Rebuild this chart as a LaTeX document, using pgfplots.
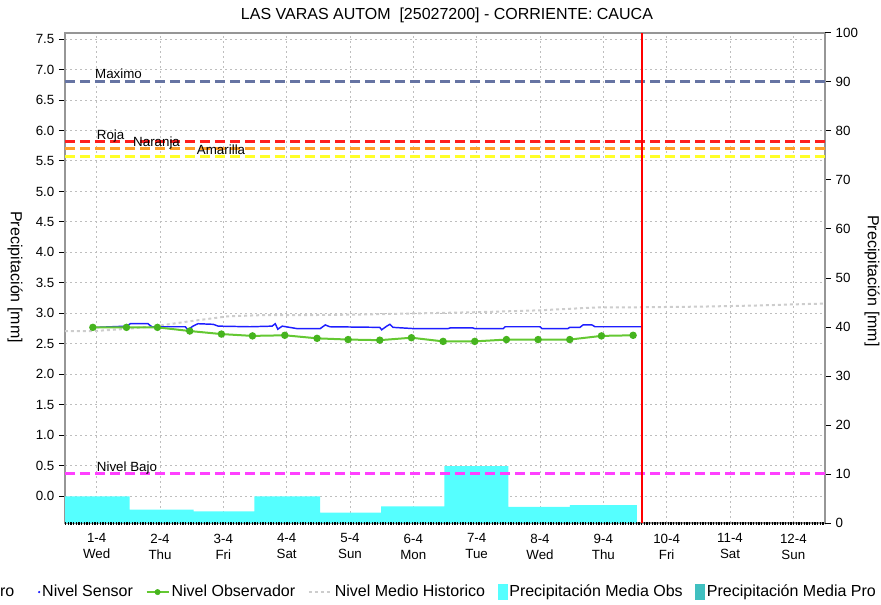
\documentclass[border=0pt]{standalone}
\usepackage{fontspec}
\setmainfont{Liberation Sans}
\usepackage{pgfplots}
\pgfplotsset{compat=1.18}
\definecolor{maxblue}{RGB}{102,116,163}
\definecolor{roja}{RGB}{255,30,30}
\definecolor{naranja}{RGB}{255,160,40}
\definecolor{amarilla}{RGB}{255,255,40}
\definecolor{bajo}{RGB}{255,64,255}
\definecolor{cyanbar}{RGB}{85,255,255}
\definecolor{tealbox}{RGB}{64,192,192}
\definecolor{obsgreen}{RGB}{100,200,50}
\definecolor{obsmark}{RGB}{70,180,30}
\definecolor{sensorblue}{RGB}{30,30,255}
\definecolor{histgray}{RGB}{205,205,205}
\definecolor{gridgray}{RGB}{190,190,190}
\definecolor{axisgray}{RGB}{150,150,150}
\pgfplotsset{common/.style={scale only axis, width=570pt, height=367.5pt,
  at={(48.75pt,60.75pt)}, anchor=south west, xmin=0.5, xmax=12.5}}
\begin{document}
\begin{tikzpicture}
% axis 1: grid, left axis, x labels, title
\begin{axis}[common,
  ymin=-0.44, ymax=7.6,
  ytick={0,0.5,1,1.5,2,2.5,3,3.5,4,4.5,5,5.5,6,6.5,7,7.5},
  ytick pos=left, xtick pos=bottom,
  xtick={1,2,3,4,5,6,7,8,9,10,11,12},
  xticklabels={{1-4\\Wed},{2-4\\Thu},{3-4\\Fri},{4-4\\Sat},{5-4\\Sun},{6-4\\Mon},{7-4\\Tue},{8-4\\Wed},{9-4\\Thu},{10-4\\Fri},{11-4\\Sat},{12-4\\Sun}},
  xticklabel style={align=center, font=\fontsize{10}{12}\selectfont},
  yticklabel style={font=\fontsize{10}{12}\selectfont, /pgf/number format/.cd, fixed, fixed zerofill, precision=1, assume math mode=true},
  tick align=outside,
  major tick length=4.5pt,
  major x tick style={draw=none},
  tick style={black, line width=0.75pt},
  grid=major,
  major grid style={gridgray, line width=0.75pt, dash pattern=on 1.5pt off 2.25pt},
  axis line style={axisgray, line width=1.5pt},
  title={LAS VARAS AUTOM\ \ [25027200] - CORRIENTE: CAUCA},
  title style={font=\fontsize{12}{14}\selectfont, at={(0.5026,1.0388)}, anchor=center, yshift=-6.75pt},
  ylabel={Precipitación [mm]},
  ylabel style={font=\fontsize{12}{14}\selectfont, at={(-0.0658,0.502)}, anchor=center, rotate=180},
]
\end{axis}
% axis 2: right axis with precipitation bars
\begin{axis}[common,
  ymin=0, ymax=100,
  axis x line=none, axis y line*=right,
  ytick={0,10,20,30,40,50,60,70,80,90,100},
  tick align=outside, major tick length=4.5pt,
  tick style={black, line width=0.75pt},
  axis line style={axisgray, line width=1.5pt, -},
  yticklabel style={font=\fontsize{10}{12}\selectfont, /pgf/number format/assume math mode=true},
  ylabel={Precipitación [mm]},
  ylabel style={font=\fontsize{12}{14}\selectfont, at={(1.0618,0.494)}, anchor=center, rotate=180},
]
\addplot[fill=cyanbar, draw=none, const plot mark left] coordinates {
 (0.49,5.45) (1.52,2.73) (2.53,2.39) (3.49,5.45) (4.53,2.12) (5.49,3.41) (6.49,11.63) (7.50,3.27) (8.47,3.67) (9.53,3.67)
} \closedcycle;
\end{axis}
% axis 3: levels, thresholds, legend
\begin{axis}[common,
  ymin=-0.44, ymax=7.6, hide axis, clip=false,
  legend style={at={(-0.3224,-0.141)}, anchor=west, draw=none, fill=none,
    font=\fontsize{12}{14}\selectfont, legend columns=-1,
    /tikz/every even column/.append style={column sep=8pt},
    inner sep=0pt, nodes={inner sep=1.5pt}},
]
% bottom axis edge, dotted black as in the reference
\draw[black, line width=2.25pt, dash pattern=on 0.9pt off 1.1pt] (rel axis cs:0,0) -- (rel axis cs:1,0);
\addplot[forget plot, histgray, line width=1.5pt, dash pattern=on 2.25pt off 2.25pt] coordinates {
 (0.5,2.71) (0.97,2.71) (1.53,2.75) (2.0,2.80) (2.47,2.87) (3.06,2.95) (3.58,2.97) (4.21,2.97) (5.16,2.98) (6.1,3.00) (7.05,3.02) (8.0,3.05) (8.95,3.10) (9.58,3.10) (10.53,3.11) (11.48,3.13) (12.1,3.15) (12.5,3.16)
};
\addplot[forget plot, sensorblue, line width=1.1pt] coordinates {
 (1.0,2.77) (1.48,2.79) (1.53,2.83) (1.81,2.83) (1.87,2.78) (2.0,2.78) (2.40,2.78) (2.44,2.73) (2.52,2.79) (2.60,2.83) (2.84,2.82) (2.92,2.79) (3.42,2.78) (3.77,2.79) (3.82,2.83) (3.86,2.74) (3.93,2.79) (4.16,2.75) (4.53,2.75) (4.61,2.81) (4.68,2.78) (5.47,2.77) (5.50,2.73) (5.58,2.79) (5.63,2.82) (5.68,2.77) (6.0,2.75) (6.55,2.75) (6.58,2.76) (6.94,2.76) (6.97,2.75) (7.42,2.75) (7.45,2.78) (8.0,2.78) (8.03,2.75) (8.44,2.75) (8.47,2.77) (8.63,2.77) (8.68,2.81) (8.82,2.81) (8.87,2.78) (9.61,2.78)
};
\addplot[forget plot, obsgreen, line width=1.5pt, mark=*, mark size=2pt, mark options={obsmark, fill=obsmark}] coordinates {
 (0.94,2.77) (1.47,2.77) (1.96,2.77) (2.47,2.71) (2.97,2.66) (3.46,2.63) (3.97,2.64) (4.48,2.59) (4.97,2.57) (5.47,2.56) (5.97,2.60) (6.47,2.54) (6.97,2.54) (7.47,2.57) (7.97,2.57) (8.47,2.57) (8.97,2.63) (9.47,2.64)
};
\addplot[forget plot, maxblue, line width=2.25pt, dash pattern=on 7.5pt off 3.75pt] coordinates {(0.5,6.80) (12.5,6.80)};
\addplot[forget plot, roja, line width=2.25pt, dash pattern=on 7.5pt off 3.75pt] coordinates {(0.5,5.82) (12.5,5.82)};
\addplot[forget plot, naranja, line width=2.25pt, dash pattern=on 7.5pt off 3.75pt] coordinates {(0.5,5.70) (12.5,5.70)};
\addplot[forget plot, amarilla, line width=2.25pt, dash pattern=on 7.5pt off 3.75pt] coordinates {(0.5,5.57) (12.5,5.57)};
\addplot[forget plot, bajo, line width=2.25pt, dash pattern=on 7.5pt off 3.75pt] coordinates {(0.5,0.38) (12.5,0.38)};
\addplot[forget plot, red, line width=1.5pt] coordinates {(9.615,-0.44) (9.615,7.6)};
\node[anchor=base west, inner sep=0pt, font=\fontsize{10}{12}\selectfont] at (axis cs:0.973,6.86) {Maximo};
\node[anchor=base west, inner sep=0pt, font=\fontsize{10}{12}\selectfont] at (axis cs:1.0,5.85) {Roja};
\node[anchor=base west, inner sep=0pt, font=\fontsize{10}{12}\selectfont] at (axis cs:1.573,5.73) {Naranja};
\node[anchor=base west, inner sep=0pt, font=\fontsize{10}{12}\selectfont] at (axis cs:2.58,5.60) {Amarilla};
\node[anchor=base west, inner sep=0pt, font=\fontsize{10}{12}\selectfont] at (axis cs:1.0,0.41) {Nivel Bajo};
\addlegendimage{legend image code/.code={\draw[gray, line width=1.5pt] (0pt,0pt) -- (16.5pt,0pt);}}
\addlegendentry{Nivel Pronostico Centro\kern-6.75pt}
\addlegendimage{legend image code/.code={\path[draw=none, fill=none] (0pt,-4pt) rectangle (16.5pt,4pt); \fill[sensorblue] (15.9pt,0pt) circle (0.6pt);}}
\addlegendentry{Nivel Sensor}
\addlegendimage{legend image code/.code={\draw[obsgreen, line width=1.5pt] (0pt,0pt) -- (16.5pt,0pt); \fill[obsmark] (8.25pt,0pt) circle (2pt);}}
\addlegendentry{Nivel Observador}
\addlegendimage{legend image code/.code={\draw[histgray, line width=1.5pt, dash pattern=on 2.25pt off 2.25pt] (0pt,0pt) -- (17.25pt,0pt);}}
\addlegendentry{Nivel Medio Historico}
\addlegendimage{legend image code/.code={\fill[cyanbar] (0pt,-5.6pt) rectangle (6.75pt,5.6pt);}}
\addlegendentry{Precipitación Media Obs}
\addlegendimage{legend image code/.code={\fill[tealbox] (0pt,-5.6pt) rectangle (6.75pt,5.6pt);}}
\addlegendentry{Precipitación Media Pro}
\end{axis}
\pgfresetboundingbox
\useasboundingbox (0pt,0pt) rectangle (660.75pt,453pt);
\end{tikzpicture}
\end{document}
